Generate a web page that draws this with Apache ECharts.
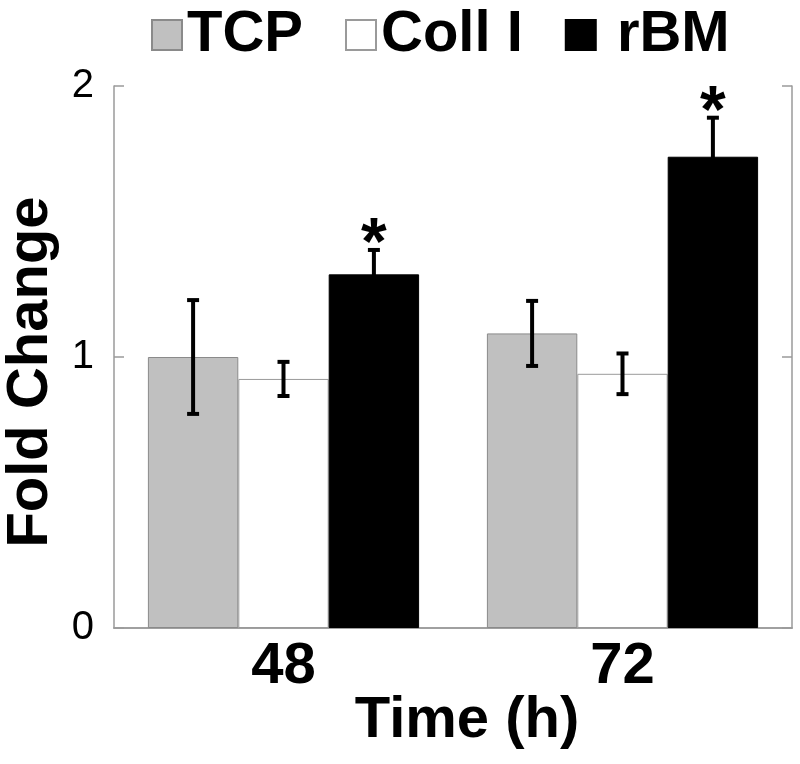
<!DOCTYPE html>
<html>
<head>
<meta charset="utf-8">
<script src="https://cdn.jsdelivr.net/npm/echarts@6/dist/echarts.min.js"></script>
<style>html,body{margin:0;padding:0;background:#fff;}#c{width:800px;height:764px;}</style>
</head>
<body>
<div id="c"></div>
<script>
const categories = ['48', '72'];
const seriesNames = ['TCP', 'Coll I', 'rBM'];
const tcpValues = [1.0, 1.087];
const tcpErrors = [0.21, 0.12];
const collValues = [0.919, 0.938];
const collErrors = [0.063, 0.075];
const rbmValues = [1.305, 1.739];
const rbmErrors = [0.09, 0.144];
const significant = [true, true];
const yTicks = [0, 1, 2];

const chart = echarts.init(document.getElementById('c'), null, {renderer: 'canvas'});
const FONT = 'Liberation Sans, Arial, sans-serif';
const frameColor = '#9a9a9a';

function errSeries(values, errors, offset, star) {
  return {
    type: 'custom',
    z: 10,
    silent: true,
    data: values.map((v, i) => [i, v, errors[i], star && significant[i] ? 1 : 0]),
    renderItem: function (params, api) {
      const idx = api.value(0), v = api.value(1), e = api.value(2);
      const band = api.size([1, 0])[0];
      const barW = band * 0.8 / 3;
      const cx = api.coord([idx, 0])[0] + offset * barW;
      const yT = api.coord([idx, v + e])[1];
      const yB = api.coord([idx, v - e])[1];
      const cap = 6;
      const st = {stroke: '#000', lineWidth: 4};
      const children = [
        {type: 'line', shape: {x1: cx, y1: yT, x2: cx, y2: yB}, style: st},
        {type: 'line', shape: {x1: cx - cap, y1: yT, x2: cx + cap, y2: yT}, style: st},
        {type: 'line', shape: {x1: cx - cap, y1: yB, x2: cx + cap, y2: yB}, style: st}
      ];
      if (api.value(3)) {
        children.push({type: 'text', x: cx, y: yT + 29, style: {text: '*', fill: '#000', font: 'bold 66px ' + FONT, align: 'center', verticalAlign: 'bottom'}});
      }
      return {type: 'group', children: children};
    }
  };
}

const option = {
  animation: false,
  backgroundColor: '#fff',
  legend: {
    data: seriesNames,
    left: 146,
    top: 1,
    itemWidth: 30,
    itemHeight: 30,
    itemGap: 42,
    icon: 'rect',
    formatter: name => name === 'rBM' ? ' ' + name : name,
    textStyle: {fontFamily: FONT, fontWeight: 'bold', fontSize: 58, color: '#000'}
  },
  grid: {left: 114, right: 8, top: 86, bottom: 136},
  xAxis: [{
    type: 'category',
    data: categories,
    axisLine: {lineStyle: {color: frameColor, width: 1.5}},
    axisTick: {inside: true, length: 10, lineStyle: {color: frameColor, width: 1.5}},
    axisLabel: {fontFamily: FONT, fontWeight: 'bold', fontSize: 58, color: '#000', margin: 10}
  }, {
    type: 'category',
    data: categories,
    position: 'top',
    axisLine: {lineStyle: {color: frameColor, width: 1.5}},
    axisTick: {inside: true, length: 10, lineStyle: {color: frameColor, width: 1.5}},
    axisLabel: {show: false}
  }],
  yAxis: [{
    type: 'value',
    min: 0, max: 2, interval: 1,
    axisLine: {show: true, lineStyle: {color: frameColor, width: 1.5}},
    axisTick: {show: true, inside: true, length: 10, lineStyle: {color: frameColor, width: 1.5}},
    splitLine: {show: false},
    axisLabel: {fontFamily: FONT, fontSize: 40, color: '#000', margin: 20, padding: [0, 0, 10, 0], formatter: v => yTicks.includes(v) ? String(v) : ''}
  }, {
    type: 'value',
    min: 0, max: 2, interval: 1,
    position: 'right',
    axisLine: {show: true, lineStyle: {color: frameColor, width: 1.5}},
    axisTick: {show: true, inside: true, length: 10, lineStyle: {color: frameColor, width: 1.5}},
    splitLine: {show: false},
    axisLabel: {show: false}
  }],
  series: [
    {name: 'TCP', type: 'bar', data: tcpValues, barGap: '0%', barCategoryGap: '20%',
     itemStyle: {color: '#c0c0c0', borderColor: '#8a8a8a', borderWidth: 1}},
    {name: 'Coll I', type: 'bar', data: collValues, barGap: '0%', barCategoryGap: '20%',
     itemStyle: {color: '#ffffff', borderColor: '#9a9a9a', borderWidth: 1}},
    {name: 'rBM', type: 'bar', data: rbmValues, barGap: '0%', barCategoryGap: '20%',
     itemStyle: {color: '#000000', borderColor: '#000', borderWidth: 1}},
    errSeries(tcpValues, tcpErrors, -1, false),
    errSeries(collValues, collErrors, 0, false),
    errSeries(rbmValues, rbmErrors, 1, true)
  ],
  graphic: [
    {type: 'text', x: 467, y: 721, style: {text: 'Time (h)', font: 'bold 58px ' + FONT, fill: '#000', align: 'center', verticalAlign: 'middle'}},
    {type: 'text', x: 31, y: 372, rotation: Math.PI / 2, style: {text: 'Fold Change', font: 'bold 58px ' + FONT, fill: '#000', align: 'center', verticalAlign: 'middle'}}
  ]
};
chart.setOption(option);
</script>
</body>
</html>
